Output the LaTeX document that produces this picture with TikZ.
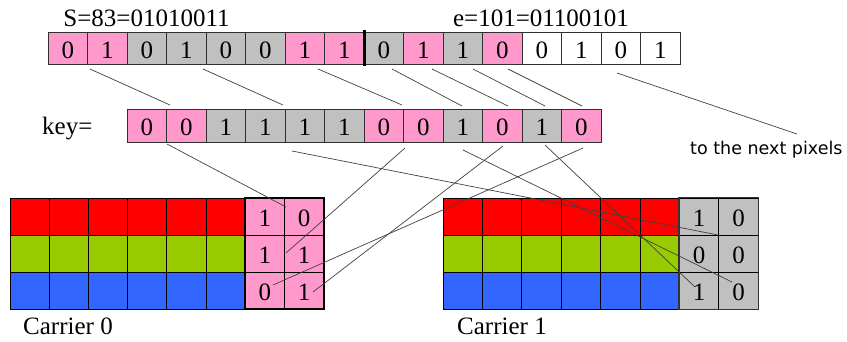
\documentclass[tikz,border=0pt]{standalone}
\usepackage{fontspec}
\setmainfont{Liberation Serif}
\newfontfamily\notefont{DejaVu Sans}
\definecolor{pk}{HTML}{FF99CC}
\definecolor{gy}{HTML}{C0C0C0}
\definecolor{wt}{HTML}{FFFFFF}
\definecolor{rd}{HTML}{FF0000}
\definecolor{gn}{HTML}{99CC00}
\definecolor{bl}{HTML}{3366FF}
\definecolor{edge}{HTML}{303030}
\definecolor{wire}{HTML}{404040}
\begin{document}
\begin{tikzpicture}[x=1pt,y=-1pt,
  bitcell/.style={draw=edge, line width=0.8pt, minimum width=39.5pt, minimum height=32pt,
    inner sep=0pt, text height=20.5pt, text depth=0pt, font=\fontsize{25}{30}\selectfont},
  keycell/.style={bitcell, minimum height=33pt},
  carcell/.style={bitcell, draw=black, minimum width=39.3pt, minimum height=37pt},
  lbl/.style={inner sep=0pt, anchor=base west, font=\fontsize{25}{30}\selectfont},
  wirestyle/.style={draw=wire, line width=0.7pt}]
\useasboundingbox (0,0) rectangle (847,341);

% top row
\foreach \v/\c [count=\i from 0] in {0/pk,1/pk,0/gy,1/gy,0/gy,0/gy,1/pk,1/pk,0/gy,1/pk,1/gy,0/pk,0/wt,1/wt,0/wt,1/wt}
  \node[bitcell, fill=\c] (t\i) at ({48+39.5*(\i+0.5)},48) {\v};
\draw[line width=2.6pt, black, shorten <=-2pt, shorten >=-2pt] (t7.north east) -- (t7.south east);

% key row
\foreach \v/\c [count=\i from 0] in {0/pk,0/pk,1/gy,1/gy,1/gy,1/gy,0/pk,0/pk,1/gy,0/pk,1/gy,0/pk}
  \node[keycell, fill=\c] (k\i) at ({127+39.5*(\i+0.5)},125.5) {\v};

% carriers
\foreach \r/\c [count=\j from 0] in {0/rd,1/gn,2/bl}{
  \foreach \i in {0,...,5}{
    \node[carcell, fill=\c] (a\r c\i) at ({10+39.2*(\i+0.5)},{198+37*(\r+0.5)}) {};
    \node[carcell, fill=\c] (b\r c\i) at ({443+39.4*(\i+0.5)},{198+37*(\r+0.5)}) {};
  }
}
\foreach \r/\x/\y in {0/1/0,1/1/1,2/0/1}{
  \node[carcell, fill=pk] (a\r c6) at ({10+39.2*6.5},{198+37*(\r+0.5)}) {\x};
  \node[carcell, fill=pk] (a\r c7) at ({10+39.2*7.5},{198+37*(\r+0.5)}) {\y};
}
\foreach \r/\x/\y in {0/1/0,1/0/0,2/1/0}{
  \node[carcell, fill=gy] (b\r c6) at ({443+39.4*6.5},{198+37*(\r+0.5)}) {\x};
  \node[carcell, fill=gy] (b\r c7) at ({443+39.4*7.5},{198+37*(\r+0.5)}) {\y};
}
\draw[line width=2pt, black] (a0c6.north west) rectangle (a2c7.south east);
\draw[line width=1.5pt, black!80] (b0c6.north west) rectangle (b2c7.south east);

% labels
\node[lbl, anchor=base] (slab) at (146.5,26) {S=83=01010011};
\node[lbl, anchor=base] (elab) at (541,26) {e=101=01100101};
\node[lbl] (klab) at (42,134) {key=};
\node[lbl] (c0lab) at (23,334) {Carrier 0};
\node[lbl] (c1lab) at (457,334) {Carrier 1};
\node[inner sep=0pt, anchor=base west, font=\notefont\fontsize{17.5}{20}\selectfont] (nlab) at (690,154) {to the next pixels};

% connectors
\foreach \a/\b/\c/\d [count=\n] in {90/69/170/105, 203/69/283/105, 318/69/402/105,
   392/69/462/106, 432/69/508/106, 473/69/545/106, 508/69/582/106, 617/73/797/134,
   167/144/286/207, 292/151/718/235, 405/148/286/253, 463/150/732/282,
   503/146/313/292, 545/145/695/287, 583/148/273/285}{
  \coordinate (ws\n) at (\a,\b);
  \coordinate (we\n) at (\c,\d);
  \draw[wirestyle] (ws\n) -- (we\n);
}
\end{tikzpicture}
\end{document}
